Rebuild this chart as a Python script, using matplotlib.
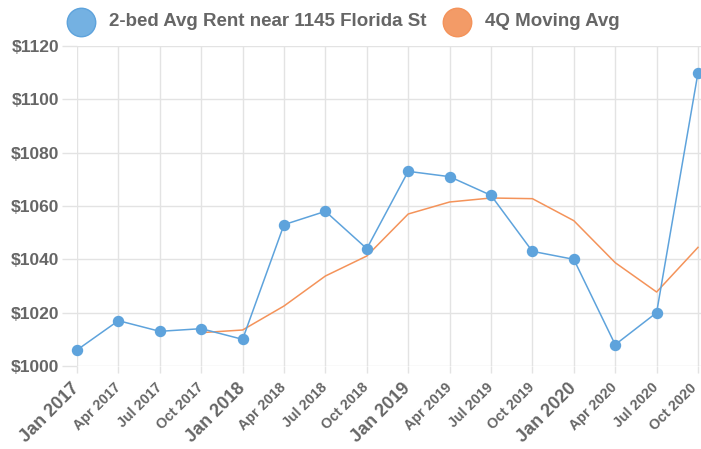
import matplotlib
matplotlib.use("Agg")
import matplotlib.pyplot as plt
from matplotlib.lines import Line2D
from matplotlib.transforms import ScaledTranslation

categories = ["Jan 2017", "Apr 2017", "Jul 2017", "Oct 2017", "Jan 2018", "Apr 2018",
              "Jul 2018", "Oct 2018", "Jan 2019", "Apr 2019", "Jul 2019", "Oct 2019",
              "Jan 2020", "Apr 2020", "Jul 2020", "Oct 2020"]
rent = [1006, 1017, 1013, 1014, 1010, 1053, 1058, 1044, 1073, 1071, 1064, 1043,
        1040, 1008, 1020, 1110]
moving_avg = [None, None, None, 1012.5, 1013.5, 1022.5, 1033.75, 1041.25, 1057,
              1061.5, 1063, 1062.75, 1054.5, 1038.75, 1027.75, 1044.5]
yticks = [1000, 1020, 1040, 1060, 1080, 1100, 1120]
ytick_labels = ["$1000", "$1020", "$1040", "$1060", "$1080", "$1100", "$1120"]
legend_labels = ["2-bed Avg Rent near 1145 Florida St", "4Q Moving Avg"]

BLUE = "#5ea3dc"
ORANGE = "#f4935a"
GRID = "#e3e3e3"
TXT = "#666666"
plt.rcParams['font.family'] = ['Liberation Sans', 'DejaVu Sans']

W, H = 701, 449
fig = plt.figure(figsize=(W/100, H/100), dpi=100)
ax = fig.add_axes([77/W, 1 - 366/H, 1 - 77/W, (366 - 46)/H])

x = list(range(len(categories)))
ma_x = [i for i, v in zip(x, moving_avg) if v is not None]
ma_y = [v for v in moving_avg if v is not None]

ax.plot(ma_x, ma_y, color=ORANGE, lw=1.1, zorder=3)
ax.plot(x, rent, color=BLUE, lw=1.1, marker="o", markersize=7.2,
        markerfacecolor=BLUE, markeredgecolor=BLUE, zorder=4, clip_on=False)

ax.set_xlim(0, 15 + 3/41.4)
ax.set_ylim(1000, 1120)
ax.set_yticks(yticks)
ax.set_yticklabels(ytick_labels)
ax.set_xticks(x)
ax.set_xticklabels(categories)

for s in ax.spines.values():
    s.set_visible(False)
ax.grid(True, color=GRID, lw=1, zorder=0)
ax.set_axisbelow(True)
ax.tick_params(axis="y", length=11, color=GRID, width=1, pad=2,
               labelsize=12.5, labelcolor=TXT)
ax.tick_params(axis="x", length=5, color=GRID, width=1, pad=9, labelcolor=TXT)
for lbl in ax.get_yticklabels():
    lbl.set_fontweight("bold")
xlabels = ax.get_xticklabels()
for lbl, cat in zip(xlabels, categories):
    lbl.set_rotation(45)
    lbl.set_ha("right")
    lbl.set_va("center")
    lbl.set_rotation_mode("anchor")
    lbl.set_fontweight("bold")
    lbl.set_fontsize(13 if cat.startswith("Jan") else 10.3)
# nudge the last label so it stays inside the canvas
xlabels[-1].set_transform(xlabels[-1].get_transform() +
                          ScaledTranslation(-4/100, 0, fig.dpi_scale_trans))

# legend drawn manually in figure pixel positions
leg_items = [(81, "#74b1e2", BLUE, 109, legend_labels[0]),
             (457.5, "#f39b67", ORANGE, 485, legend_labels[1])]
for cx, fc, ec, tx, label in leg_items:
    fig.add_artist(Line2D([cx/W], [1 - 21.5/H], transform=fig.transFigure, ls="none",
                          marker="o", markersize=20.5, markerfacecolor=fc,
                          markeredgecolor=ec, markeredgewidth=1))
    fig.text(tx/W, 1 - 21.5/H, label, ha="left", va="center", fontsize=13.5,
             fontweight="bold", color=TXT)

fig.savefig("out.png", dpi=100)
